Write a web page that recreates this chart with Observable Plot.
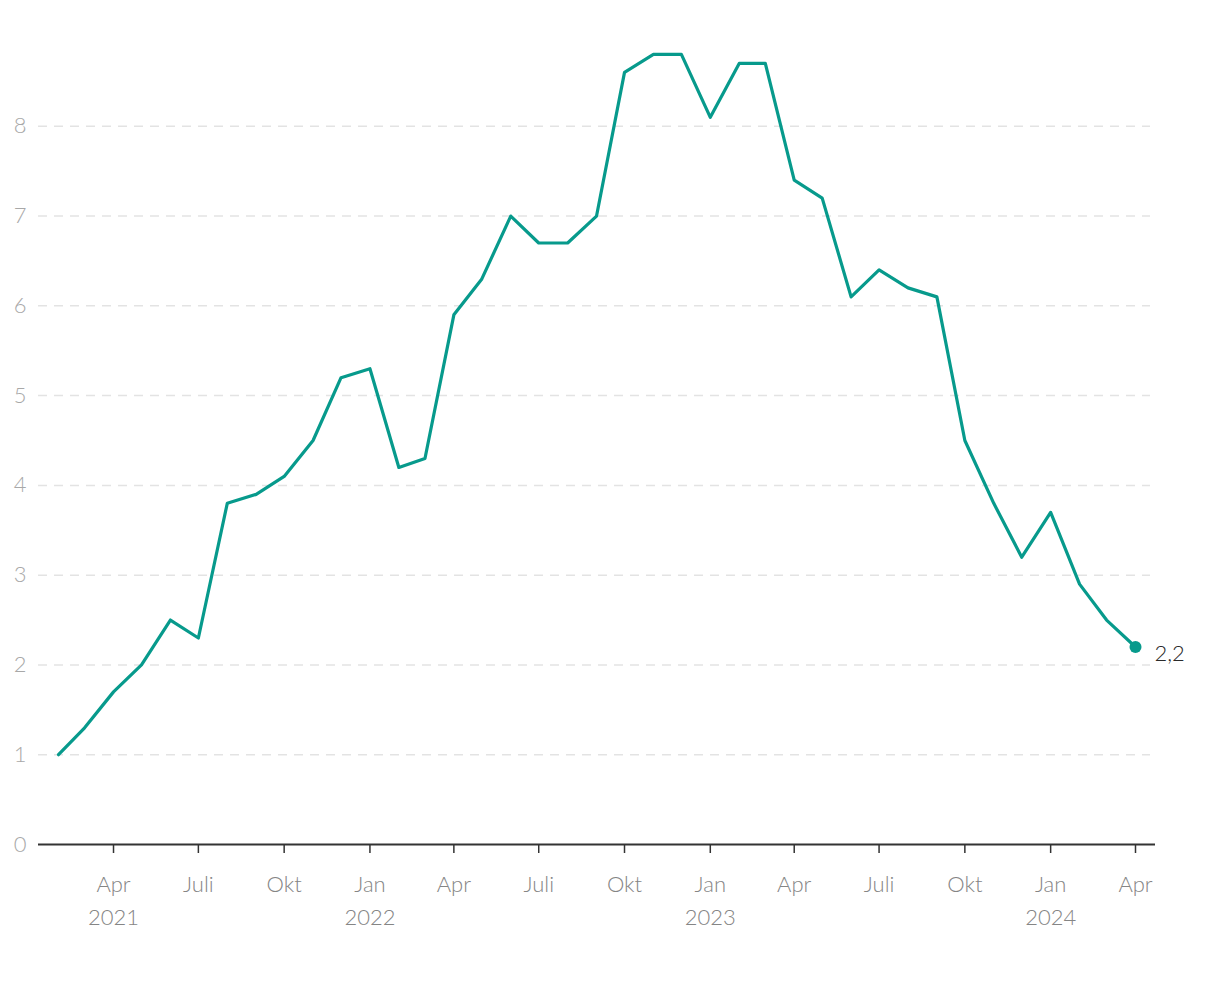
<!DOCTYPE html>
<html>
<head>
<meta charset="utf-8">
<script src="https://cdn.jsdelivr.net/npm/d3@7"></script>
<script src="https://cdn.jsdelivr.net/npm/@observablehq/plot@0.6"></script>
<style>
  html, body { margin: 0; padding: 0; background: #fff; }
  #chart { width: 1220px; height: 986px; }
</style>
</head>
<body>
<div id="chart"></div>
<script>
const startYear = 2021, startMonth = 1; // Feb 2021 (0-based month)
const values = [
  1.0, 1.3, 1.7, 2.0, 2.5, 2.3, 3.8, 3.9, 4.1, 4.5, 5.2,
  5.3, 4.2, 4.3, 5.9, 6.3, 7.0, 6.7, 6.7, 7.0, 8.6, 8.8, 8.8,
  8.1, 8.7, 8.7, 7.4, 7.2, 6.1, 6.4, 6.2, 6.1, 4.5, 3.8, 3.2,
  3.7, 2.9, 2.5, 2.2
];
const yTicks = [0, 1, 2, 3, 4, 5, 6, 7, 8];
const tickMonthNames = ["Apr", "Juli", "Okt", "Jan", "Apr", "Juli", "Okt", "Jan", "Apr", "Juli", "Okt", "Jan", "Apr"];
const tickYearLabels = ["2021", "", "", "2022", "", "", "", "2023", "", "", "", "2024", ""];
const endLabel = "2,2";

const data = values.map((v, i) => ({date: new Date(startYear, startMonth + i, 1), value: v}));
const ticks = tickMonthNames.map((m, i) => ({
  date: new Date(2021, 3 + 3 * i, 1),
  label: tickYearLabels[i] ? m + "\n" + tickYearLabels[i] : m
}));
const last = data[data.length - 1];
const FONT = "Lato, 'Open Sans', sans-serif";

const chart = Plot.plot({
  width: 1220,
  height: 986,
  marginLeft: 38,
  marginRight: 65,
  marginTop: 36,
  marginBottom: 142,
  style: {fontFamily: FONT, background: "#fff"},
  x: {type: "time", domain: [data[0].date, last.date], insetLeft: 20, insetRight: 20},
  y: {domain: [0, 9], axis: null},
  marks: [
    Plot.ruleY(yTicks.filter(d => d > 0), {stroke: "#e3e3e3", strokeWidth: 1.5, strokeDasharray: "9 7", insetRight: 5}),
    Plot.text(yTicks, {y: d => d, text: d => String(d), frameAnchor: "left", dx: -12, textAnchor: "end", fontSize: 22, fontWeight: 300, fill: "#a8a8a8"}),
    Plot.axisX({ticks: ticks.map(d => d.date), tickSize: 9, tickFormat: () => "", stroke: "#333", strokeWidth: 1.5, label: null}),
    Plot.ruleY([0], {stroke: "#333", strokeWidth: 2}),
    Plot.text(ticks, {x: "date", y: 0, text: "label", dy: 24, lineAnchor: "top", lineHeight: 1.5, fontSize: 22, fontWeight: 300, fill: "#858585"}),
    Plot.line(data, {x: "date", y: "value", stroke: "#079a8c", strokeWidth: 3.2, strokeLinejoin: "round"}),
    Plot.dot([last], {x: "date", y: "value", r: 6, fill: "#079a8c"}),
    Plot.text([last], {x: "date", y: "value", text: () => endLabel, dx: 19, dy: 7, textAnchor: "start", fontSize: 22, fontWeight: 300, fill: "#2a2a2a"})
  ]
});

document.getElementById("chart").appendChild(chart);
</script>
</body>
</html>
